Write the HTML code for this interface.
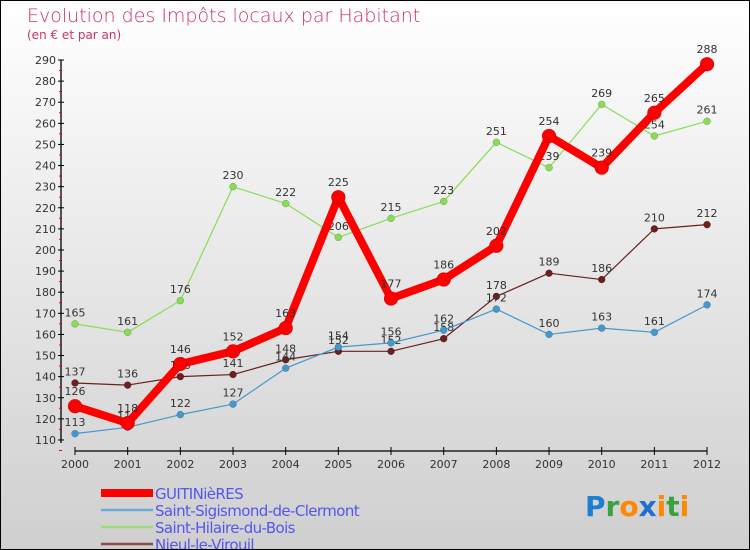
<!DOCTYPE html>
<html><head><meta charset="utf-8"><style>
html,body{margin:0;padding:0}
body{width:750px;height:550px;overflow:hidden;font-family:"DejaVu Sans","Liberation Sans",sans-serif}
#wrap{position:relative;width:748px;height:548px;border:1px solid #000;background:linear-gradient(#ffffff,#cfcfcf)}
</style></head><body>
<div id="wrap">
<svg id="chart" width="748" height="548" xmlns="http://www.w3.org/2000/svg" style="position:absolute;left:0;top:0">
<text x="26" y="21" font-size="19" fill="#cc3366" font-family="DejaVu Sans, sans-serif" font-weight="200">Evolution des Impôts locaux par Habitant</text>
<text x="26" y="38" font-size="12" fill="#cc3366">(en € et par an)</text>
<g id="axes"></g><g id="series"></g><g id="legend"></g>
<g font-size="28" font-weight="bold" font-family="DejaVu Sans, sans-serif">
<text x="584" y="515"><tspan fill="#1e7fd0">P</tspan><tspan fill="#3aa040">r</tspan><tspan fill="#ff8800">o</tspan><tspan fill="#1e6fd0">x</tspan><tspan fill="#ff8800">i</tspan><tspan fill="#3aa040">t</tspan><tspan fill="#ff8800">i</tspan></text>
</g>
</svg>
</div>
<script>
const years=[2000,2001,2002,2003,2004,2005,2006,2007,2008,2009,2010,2011,2012];
const guitinieres=[126,118,146,152,163,225,177,186,202,254,239,265,288];
const saintSigismond=[113,116,122,127,144,154,156,162,172,160,163,161,174];
const saintHilaire=[165,161,176,230,222,206,215,223,251,239,269,254,261];
const nieul=[137,136,140,141,148,152,152,158,178,189,186,210,212];
const yTicks=[110,120,130,140,150,160,170,180,190,200,210,220,230,240,250,260,270,280,290];
const seriesNames=["GUITINièRES","Saint-Sigismond-de-Clermont","Saint-Hilaire-du-Bois","Nieul-le-Virouil"];
const NS="http://www.w3.org/2000/svg";
const xS=i=>74+i*52.67;
const yS=v=>59+(290-v)*2.111;
function mk(tag,attrs,parent){const e=document.createElementNS(NS,tag);for(const k in attrs)e.setAttribute(k,attrs[k]);parent.appendChild(e);return e;}
const axes=document.getElementById('axes');
let a=mk('line',{x1:60,y1:yS(110)+3,x2:60,y2:yS(290),stroke:'#000','stroke-width':1.3},axes);


yTicks.forEach(v=>{
 const y=yS(v);
 mk('line',{x1:57,y1:y,x2:63,y2:y,stroke:'#000'},axes);
 mk('line',{x1:58,y1:y+10.5,x2:61,y2:y+10.5,stroke:'#e00'},axes);
 const t=mk('text',{x:55,y:y+4,'font-size':11,'text-anchor':'end',fill:'#333'},axes);
 t.textContent=v;
 
 
});
let xa=mk('line',{x1:xS(0),y1:450,x2:xS(12),y2:450,stroke:'#000','stroke-width':1.3},axes);


years.forEach((yr,i)=>{
 mk('line',{x1:xS(i),y1:446,x2:xS(i),y2:454,stroke:'#000'},axes);
 const t=mk('text',{x:xS(i),y:467,'font-size':11,'text-anchor':'middle',fill:'#333'},axes);
 t.textContent=yr;
 
 
});
const S=document.getElementById('series');
function draw(data,color,w,r,name){
 const g=mk('g',{},S);
 
 
 const pl=mk('polyline',{points:data.map((v,i)=>xS(i)+','+yS(v)).join(' '),fill:'none',stroke:color,'stroke-width':w,'stroke-linejoin':'round'},g);
 
 
 data.forEach((v,i)=>{
  const c=mk('circle',{cx:xS(i),cy:yS(v),r:r,fill:color,stroke:'rgba(0,0,0,0.3)','stroke-width':0.5},g);
  
  
  const t=mk('text',{x:xS(i),y:yS(v)-r-4,'font-size':11,'text-anchor':'middle',fill:'#333'},g);
  t.textContent=v;
  
  
 });
}
draw(saintHilaire,'#88dd55',1.2,3.5,'saint-hilaire-series');
draw(nieul,'#6b1f1f',1.2,3.5,'nieul-series');
draw(saintSigismond,'#4499cc',1.2,3.5,'saint-sigismond-series');
draw(guitinieres,'#ff0000',8,7,'guitinieres-series');
const L=document.getElementById('legend');
const lc=['#ff0000','#6aaad8','#99dd77','#8a4a4a'],lw=[8,2.5,2.5,2.5];
seriesNames.forEach((n,i)=>{
 const y=492+i*17;
 const l=mk('line',{x1:100,y1:y,x2:152,y2:y,stroke:lc[i],'stroke-width':lw[i]},L);
 
 
 const t=mk('text',{x:154,y:y+6,'font-size':15,fill:'#5555ee','letter-spacing':'-0.6'},L);
 t.textContent=n;
 
 
});
</script>
</body></html>
